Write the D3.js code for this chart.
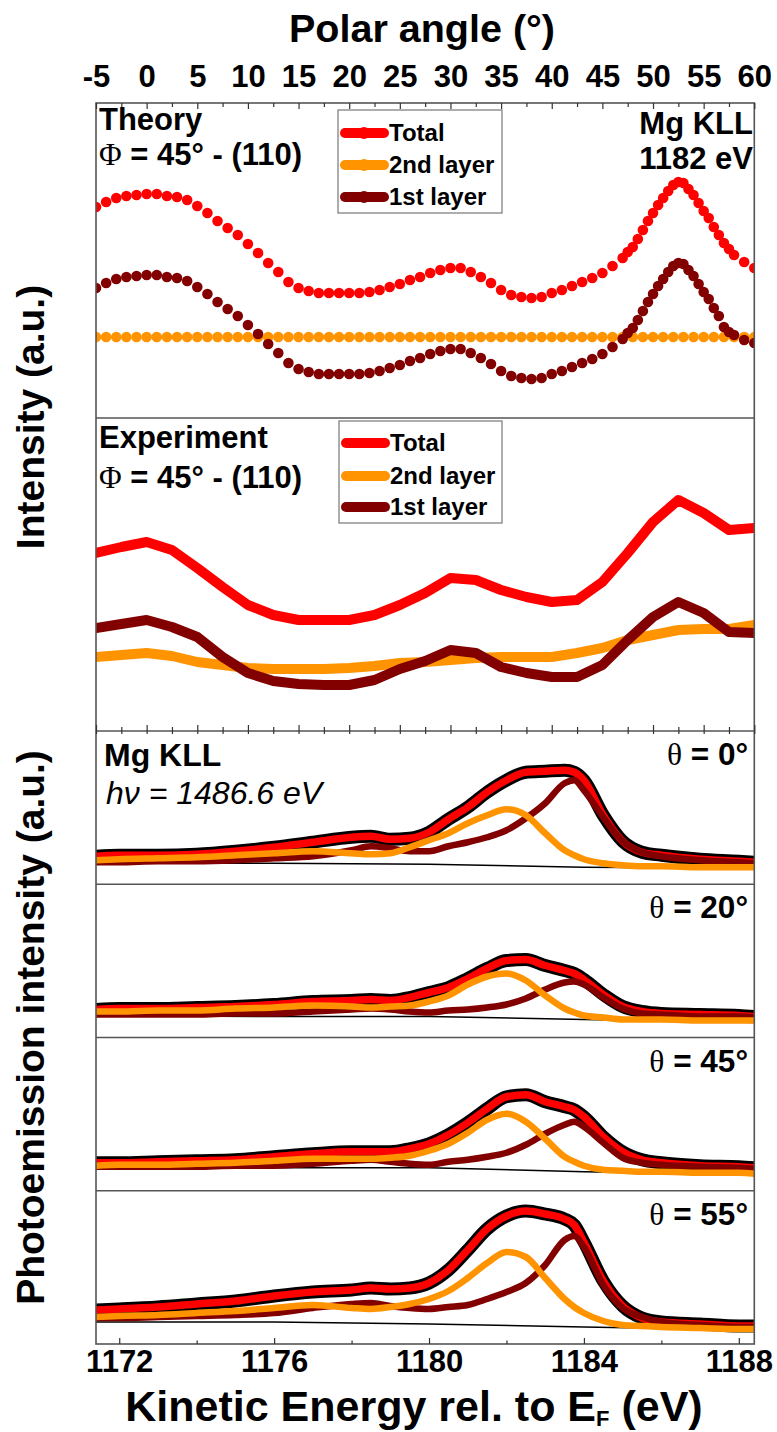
<!DOCTYPE html>
<html>
<head>
<meta charset="utf-8">
<script src="https://cdn.jsdelivr.net/npm/d3@7/dist/d3.min.js"></script>
<style>
html,body{margin:0;padding:0;background:#fff;}
svg text{font-family:"Liberation Sans",Arial,Helvetica,sans-serif;font-weight:bold;fill:#000;}
</style>
</head>
<body>
<svg id="chart" width="777" height="1432"></svg>
<script>
// ---------------- DATA ----------------
const angleTicks = [-5,0,5,10,15,20,25,30,35,40,45,50,55,60];
const angleMinorTicks = [-2.5,2.5,7.5,12.5,17.5,22.5,27.5,32.5,37.5,42.5,47.5,52.5,57.5];
const energyTicks = [1172,1176,1180,1184,1188];
const energyMinorTicks = [1174,1178,1182,1186];

// Theory (polar angle, degrees)
const theoryAngles = [-5,-4,-3,-2,-1,0,1,2,3,4,5,6,7,8,9,10,11,12,13,14,15,16,17,18,19,20,21,22,23,24,25,26,27,28,29,30,31,32,33,34,35,36,37,38,39,40,41,42,43,44,45,46,47,
  47.5,48,48.5,49,49.5,50,50.5,51,51.5,52,52.5,53,53.5,54,54.5,55,55.5,56,56.5,57,57.5,58,59,60];
const theoryTotal = [2.11,2.16,2.20,2.22,2.23,2.24,2.24,2.22,2.21,2.18,2.12,2.05,1.97,1.90,1.83,1.74,1.65,1.55,1.46,1.36,1.30,1.27,1.25,1.25,1.25,1.25,1.25,1.26,1.28,1.31,1.34,1.38,1.41,1.45,1.48,1.50,1.50,1.46,1.41,1.35,1.28,1.23,1.21,1.20,1.21,1.25,1.28,1.32,1.36,1.40,1.45,1.52,1.60,
  1.66,1.71,1.79,1.88,1.97,2.05,2.13,2.20,2.27,2.33,2.36,2.35,2.29,2.23,2.15,2.07,2.00,1.91,1.83,1.75,1.69,1.63,1.56,1.50];
const theoryFirst = [1.30,1.35,1.39,1.41,1.42,1.43,1.43,1.41,1.40,1.37,1.31,1.24,1.16,1.09,1.02,0.93,0.84,0.74,0.65,0.55,0.49,0.46,0.44,0.44,0.44,0.44,0.44,0.45,0.47,0.50,0.53,0.57,0.60,0.64,0.67,0.69,0.69,0.65,0.60,0.54,0.47,0.42,0.40,0.39,0.40,0.44,0.47,0.51,0.55,0.59,0.64,0.71,0.79,
  0.85,0.90,0.98,1.07,1.16,1.24,1.32,1.39,1.46,1.52,1.55,1.54,1.48,1.42,1.34,1.26,1.19,1.10,1.02,0.91,0.86,0.83,0.78,0.75];
const theorySecondAngles = [-5,-4,-3,-2,-1,0,1,2,3,4,5,6,7,8,9,10,11,12,13,14,15,16,17,18,19,20,21,22,23,24,25,26,27,28,29,30,31,32,33,34,35,36,37,38,39,40,41,42,43,44,45,46,47,48,49,50,51,52,53,54,55,56,57,58,59,60];
const theorySecond = [0.81,0.81,0.81,0.81,0.81,0.81,0.81,0.81,0.81,0.81,0.81,0.81,0.81,0.81,0.81,0.81,0.81,0.81,0.81,0.81,0.81,0.81,0.81,0.81,0.81,0.81,0.81,0.81,0.81,0.81,0.81,0.81,0.81,0.81,0.81,0.81,0.81,0.81,0.81,0.81,0.81,0.81,0.81,0.81,0.81,0.81,0.81,0.81,0.81,0.81,0.81,0.81,0.81,0.81,0.81,0.81,0.81,0.81,0.81,0.81,0.81,0.81,0.81,0.81,0.81,0.81];

// Experiment
const expAngles = [-5,-2.5,0,2.5,5,7.5,10,12.5,15,17.5,20,22.5,25,27.5,30,32.5,35,37.5,40,42.5,45,47.5,50,52.5,55,57.5,60];
const expTotal  = [1.78,1.84,1.89,1.81,1.63,1.44,1.26,1.16,1.11,1.11,1.11,1.16,1.26,1.38,1.53,1.51,1.41,1.34,1.29,1.31,1.49,1.78,2.09,2.31,2.18,2.01,2.03];
const expSecond = [0.74,0.76,0.78,0.75,0.69,0.66,0.63,0.62,0.62,0.62,0.63,0.65,0.68,0.69,0.71,0.73,0.74,0.74,0.74,0.78,0.83,0.91,0.96,1.01,1.02,1.02,1.06];
const expFirst  = [1.03,1.07,1.11,1.04,0.94,0.74,0.58,0.50,0.47,0.46,0.46,0.51,0.62,0.70,0.81,0.78,0.64,0.58,0.54,0.54,0.66,0.91,1.14,1.29,1.18,0.99,0.98];

// Spectra (kinetic energy, eV)
const energies = [1171.4,1172,1173,1174,1175,1176,1177,1178,1178.5,1179,1179.5,1180,1180.5,1181,1181.5,1182,1182.5,1183,1183.5,1183.75,1184,1184.5,1185,1185.5,1186,1187,1188,1188.4];
const bgEnergies = [1171.4,1176,1180,1184,1188.4];
const thetaLabels = ["0°","20°","45°","55°"];

const sp0Total  = [0.28,0.29,0.29,0.30,0.33,0.37,0.42,0.47,0.48,0.45,0.46,0.52,0.65,0.77,0.92,1.04,1.12,1.13,1.14,1.12,1.04,0.69,0.43,0.32,0.29,0.25,0.23,0.22];
const sp0Second = [0.24,0.25,0.26,0.27,0.29,0.31,0.33,0.31,0.30,0.31,0.37,0.44,0.51,0.61,0.69,0.75,0.69,0.51,0.34,0.29,0.25,0.21,0.19,0.18,0.18,0.17,0.17,0.17];
const sp0First  = [0.22,0.22,0.23,0.23,0.24,0.26,0.28,0.34,0.38,0.36,0.33,0.33,0.38,0.42,0.47,0.54,0.66,0.81,1.01,1.04,0.94,0.67,0.43,0.32,0.28,0.24,0.22,0.21];
const sp0Bg     = [0.21,0.21,0.20,0.17,0.16];

const sp20Total  = [0.28,0.29,0.29,0.30,0.31,0.33,0.36,0.37,0.38,0.37,0.40,0.45,0.50,0.59,0.69,0.77,0.78,0.72,0.67,0.64,0.58,0.43,0.31,0.26,0.24,0.23,0.22,0.21];
const sp20Second = [0.26,0.26,0.27,0.27,0.29,0.30,0.32,0.31,0.30,0.31,0.32,0.36,0.42,0.53,0.61,0.64,0.57,0.42,0.29,0.25,0.22,0.20,0.18,0.18,0.18,0.17,0.17,0.17];
const sp20First  = [0.23,0.23,0.23,0.23,0.24,0.24,0.26,0.28,0.29,0.28,0.26,0.25,0.27,0.28,0.30,0.33,0.39,0.48,0.55,0.56,0.53,0.40,0.29,0.24,0.23,0.21,0.21,0.20];
const sp20Bg     = [0.22,0.21,0.21,0.18,0.15];

const sp45Total  = [0.28,0.28,0.29,0.30,0.31,0.34,0.37,0.39,0.39,0.39,0.42,0.47,0.56,0.68,0.82,0.94,0.96,0.89,0.84,0.81,0.74,0.54,0.39,0.31,0.28,0.25,0.24,0.23];
const sp45Second = [0.25,0.26,0.26,0.27,0.28,0.30,0.32,0.32,0.32,0.33,0.35,0.40,0.47,0.58,0.71,0.77,0.69,0.52,0.34,0.29,0.25,0.21,0.20,0.19,0.19,0.18,0.18,0.17];
const sp45First  = [0.24,0.24,0.24,0.24,0.25,0.25,0.27,0.30,0.31,0.29,0.27,0.26,0.29,0.31,0.34,0.38,0.46,0.57,0.66,0.69,0.64,0.48,0.33,0.28,0.26,0.24,0.23,0.22];
const sp45Bg     = [0.22,0.23,0.23,0.19,0.16];

const sp55Total  = [0.34,0.35,0.37,0.40,0.43,0.48,0.52,0.54,0.56,0.55,0.56,0.61,0.74,0.94,1.15,1.28,1.33,1.30,1.25,1.19,1.02,0.63,0.38,0.26,0.22,0.20,0.18,0.18];
const sp55Second = [0.27,0.28,0.29,0.31,0.33,0.36,0.39,0.36,0.35,0.37,0.40,0.45,0.53,0.66,0.81,0.92,0.87,0.66,0.45,0.37,0.31,0.23,0.19,0.18,0.17,0.16,0.15,0.15];
const sp55First  = [0.26,0.26,0.27,0.28,0.29,0.31,0.36,0.40,0.41,0.38,0.36,0.35,0.37,0.39,0.45,0.52,0.61,0.79,1.04,1.08,0.97,0.59,0.36,0.27,0.22,0.19,0.17,0.17];
const sp55Bg     = [0.22,0.22,0.20,0.17,0.14];

const legendLabels = ["Total","2nd layer","1st layer"];

// ---------------- LAYOUT ----------------
const svg = d3.select("#chart");
const L = 96, R = 754.3, T = 103;
const thB = 418, exB = 731;
const spH = 153.25;
const spTops = [exB, exB + spH, exB + 2*spH, exB + 3*spH];
const B = exB + 4*spH; // 1344

const C_RED = "#ff0000", C_OR = "#ff9400", C_DK = "#820000";
const FRAME = "#555";
const SERIF = "'Liberation Serif','Times New Roman',serif";

const xA = d3.scaleLinear().domain([-5, 60]).range([L, R]);
const xE = d3.scaleLinear().domain([1171.4, 1188.4]).range([L, R]);
const yTh = d3.scaleLinear().domain([0, 3.15]).range([thB, T]);
const yEx = d3.scaleLinear().domain([0, 3.13]).range([exB, thB]);

const defs = svg.append("defs");
defs.append("clipPath").attr("id", "clipTh").append("rect").attr("x", L).attr("y", T).attr("width", R - L).attr("height", thB - T);
defs.append("clipPath").attr("id", "clipEx").append("rect").attr("x", L).attr("y", thB).attr("width", R - L).attr("height", exB - thB);
defs.append("clipPath").attr("id", "clipSp").append("rect").attr("x", L).attr("y", exB).attr("width", R - L).attr("height", B - exB);

// ---------- Theory panel ----------
const gTh = svg.append("g").attr("clip-path", "url(#clipTh)");
function dotSeries(xs, ys, color) {
  gTh.append("g").selectAll("circle")
    .data(xs.map((a, i) => [a, ys[i]]))
    .enter().append("circle")
    .attr("cx", d => xA(d[0])).attr("cy", d => yTh(d[1]))
    .attr("r", 5.3).attr("fill", color);
}
dotSeries(theoryAngles, theoryTotal, C_RED);
dotSeries(theorySecondAngles, theorySecond, C_OR);
dotSeries(theoryAngles, theoryFirst, C_DK);

// ---------- Experiment panel ----------
const gEx = svg.append("g").attr("clip-path", "url(#clipEx)");
const lineEx = d3.line().x((d, i) => xA(expAngles[i])).y(d => yEx(d));
[[expTotal, C_RED], [expSecond, C_OR], [expFirst, C_DK]].forEach(([arr, c]) => {
  gEx.append("path").datum(arr).attr("d", lineEx)
    .attr("fill", "none").attr("stroke", c).attr("stroke-width", 10)
    .attr("stroke-linejoin", "round").attr("stroke-linecap", "round");
});

// ---------- Spectra ----------
const gSp = svg.append("g").attr("clip-path", "url(#clipSp)");
const spectra = [
  [sp0Total, sp0Second, sp0First, sp0Bg],
  [sp20Total, sp20Second, sp20First, sp20Bg],
  [sp45Total, sp45Second, sp45First, sp45Bg],
  [sp55Total, sp55Second, sp55First, sp55Bg]
];
spectra.forEach(([tot, sec, fst, bg], p) => {
  const y = d3.scaleLinear().domain([0, 1.5325]).range([spTops[p] + spH, spTops[p]]);
  const ln = d3.line().curve(d3.curveMonotoneX).x((d, i) => xE(energies[i])).y(d => y(d));
  const lnBg = d3.line().x((d, i) => xE(bgEnergies[i])).y(d => y(d));
  const g = gSp.append("g");
  g.append("path").datum(bg).attr("d", lnBg).attr("fill", "none").attr("stroke", "#000").attr("stroke-width", 1.5);
  g.append("path").datum(tot).attr("d", ln).attr("fill", "none").attr("stroke", "#000").attr("stroke-width", 13).attr("stroke-linejoin", "round");
  g.append("path").datum(tot).attr("d", ln).attr("fill", "none").attr("stroke", C_RED).attr("stroke-width", 7.5).attr("stroke-linejoin", "round");
  g.append("path").datum(fst).attr("d", ln).attr("fill", "none").attr("stroke", C_DK).attr("stroke-width", 6.5).attr("stroke-linejoin", "round");
  g.append("path").datum(sec).attr("d", ln).attr("fill", "none").attr("stroke", C_OR).attr("stroke-width", 6.5).attr("stroke-linejoin", "round");
});

// ---------- Frames ----------
svg.append("rect").attr("x", L).attr("y", T).attr("width", R - L).attr("height", B - T)
  .attr("fill", "none").attr("stroke", FRAME).attr("stroke-width", 1.6);
[thB, exB, spTops[1], spTops[2], spTops[3]].forEach(yy => {
  svg.append("line").attr("x1", L).attr("x2", R).attr("y1", yy).attr("y2", yy)
    .attr("stroke", FRAME).attr("stroke-width", 1.6);
});

// ---------- Axes ----------
function styleAxis(g) {
  g.select(".domain").remove();
  g.selectAll(".tick line").attr("stroke", "#333").attr("stroke-width", 1.2);
}
// top polar angle axis
svg.append("g").attr("transform", `translate(0,${T})`)
  .call(d3.axisTop(xA).tickValues(angleTicks).tickSizeInner(-6).tickSizeOuter(0).tickPadding(16).tickFormat(d => String(d)))
  .call(styleAxis)
  .call(g => g.selectAll("text").attr("font-size", 31).attr("font-family", null).attr("fill", "#000"));
svg.append("g").attr("transform", `translate(0,${T})`)
  .call(d3.axisTop(xA).tickValues(angleMinorTicks).tickSizeInner(-4).tickSizeOuter(0).tickFormat(""))
  .call(styleAxis);
// angle ticks on boundary between experiment and spectra
svg.append("g").attr("transform", `translate(0,${exB})`)
  .call(d3.axisBottom(xA).tickValues(angleTicks).tickSizeInner(-6).tickSizeOuter(0).tickFormat(""))
  .call(styleAxis);
svg.append("g").attr("transform", `translate(0,${exB})`)
  .call(d3.axisBottom(xA).tickValues(angleMinorTicks).tickSizeInner(-4).tickSizeOuter(0).tickFormat(""))
  .call(styleAxis);
svg.append("g").attr("transform", `translate(0,${exB})`)
  .call(d3.axisTop(xA).tickValues(angleTicks.concat(angleMinorTicks)).tickSizeInner(-3).tickSizeOuter(0).tickFormat(""))
  .call(styleAxis);
// bottom energy axis
svg.append("g").attr("transform", `translate(0,${B})`)
  .call(d3.axisBottom(xE).tickValues(energyTicks).tickSizeInner(-6).tickSizeOuter(0).tickPadding(6).tickFormat(d => String(d)))
  .call(styleAxis)
  .call(g => g.selectAll("text").attr("font-size", 31).attr("font-family", null).attr("fill", "#000"));
svg.append("g").attr("transform", `translate(0,${B})`)
  .call(d3.axisBottom(xE).tickValues(energyMinorTicks).tickSizeInner(-3.5).tickSizeOuter(0).tickFormat(""))
  .call(styleAxis);

// ---------- Titles ----------
svg.append("text").attr("x", 422).attr("y", 42).attr("text-anchor", "middle")
  .attr("font-size", 39.5).text("Polar angle (°)");
const xt = svg.append("text").attr("x", 414).attr("y", 1421).attr("text-anchor", "middle").attr("font-size", 43);
xt.append("tspan").text("Kinetic Energy rel. to E");
xt.append("tspan").attr("font-size", 22).attr("dy", 5).text("F");
xt.append("tspan").attr("dy", -5).text(" (eV)");

svg.append("text").attr("transform", `translate(44,${(T + exB) / 2}) rotate(-90)`)
  .attr("text-anchor", "middle").attr("font-size", 39).text("Intensity (a.u.)");
svg.append("text").attr("transform", `translate(44,${(exB + B) / 2 - 10}) rotate(-90)`)
  .attr("text-anchor", "middle").attr("font-size", 39).text("Photoemission intensity (a.u.)");

// ---------- Panel annotations ----------
function phiLabel(y) {
  const t = svg.append("text").attr("x", 99).attr("y", y).attr("font-size", 31);
  t.append("tspan").attr("font-family", SERIF).style("font-weight", "normal").text("Φ");
  t.append("tspan").text(" = 45° - (110)");
}
svg.append("text").attr("x", 99).attr("y", 130).attr("font-size", 31).text("Theory");
phiLabel(165);
svg.append("text").attr("x", 99).attr("y", 448).attr("font-size", 31).text("Experiment");
phiLabel(488);
svg.append("text").attr("x", 753).attr("y", 134).attr("text-anchor", "end").attr("font-size", 31).text("Mg KLL");
svg.append("text").attr("x", 753).attr("y", 169).attr("text-anchor", "end").attr("font-size", 31).text("1182 eV");

// Legends
function legend(x0, y0, w, h, rows, withDots) {
  svg.append("rect").attr("x", x0).attr("y", y0).attr("width", w).attr("height", h)
    .attr("fill", "#fff").attr("stroke", "#777").attr("stroke-width", 1.2);
  const cols = [C_RED, C_OR, C_DK];
  rows.forEach((ry, i) => {
    svg.append("line").attr("x1", x0 + 7).attr("x2", x0 + 46).attr("y1", ry).attr("y2", ry)
      .attr("stroke", cols[i]).attr("stroke-width", 10).attr("stroke-linecap", "round");
    if (withDots) svg.append("circle").attr("cx", x0 + 26).attr("cy", ry).attr("r", 6).attr("fill", cols[i]);
    svg.append("text").attr("x", x0 + 51).attr("y", ry + 8).attr("font-size", 24).text(legendLabels[i]);
  });
}
legend(338, 110, 164, 103, [133, 165, 197], true);
legend(339, 421, 163, 102, [443, 476, 507], false);

// Spectra labels
svg.append("text").attr("x", 104).attr("y", 766).attr("font-size", 32).text("Mg KLL");
svg.append("text").attr("x", 106).attr("y", 804).attr("font-size", 32)
  .style("font-weight", "normal").style("font-style", "italic").text("hν = 1486.6 eV");
thetaLabels.forEach((lab, p) => {
  const t = svg.append("text").attr("x", 748).attr("y", spTops[p] + 34).attr("text-anchor", "end").attr("font-size", 31.5);
  t.append("tspan").attr("font-family", SERIF).style("font-weight", "normal").text("θ");
  t.append("tspan").text(" = " + lab);
});
</script>
</body>
</html>
